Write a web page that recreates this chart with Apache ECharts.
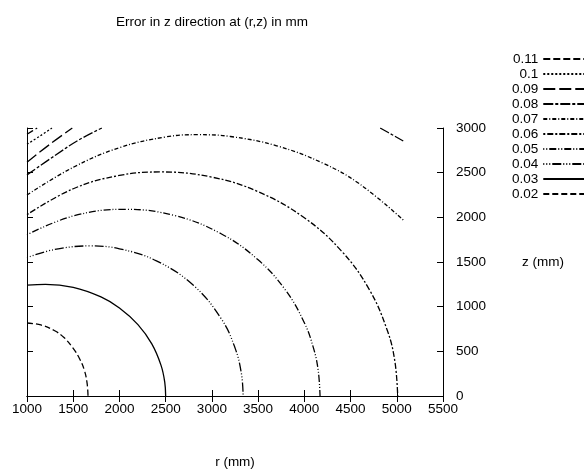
<!DOCTYPE html>
<html>
<head>
<meta charset="utf-8">
<script src="https://cdn.jsdelivr.net/npm/echarts@6/dist/echarts.min.js"></script>
<style>
  html, body { margin: 0; padding: 0; background: #fff; }
  #chart { width: 584px; height: 475px; }
</style>
</head>
<body>
<div id="chart"></div>
<script>
// contour levels, top to bottom as in the key
const levels = ['0.11', '0.1', '0.09', '0.08', '0.07', '0.06', '0.05', '0.04', '0.03', '0.02'];

// axis ticks
const rTicks = [1000, 1500, 2000, 2500, 3000, 3500, 4000, 4500, 5000, 5500];
const zTicks = [0, 500, 1000, 1500, 2000, 2500, 3000];

// contour points, [r, z] in mm
const c011 = [[1000, 2930], [1110, 3000]];
const c010 = [[1000, 2818], [1140, 2910], [1270, 3000]];
const c009 = [[1000, 2617], [1250, 2820], [1490, 3000]];
const c008a = [[1000, 2475], [1300, 2690], [1550, 2860], [1810, 3000]];
const c008b = [[4820, 3000], [4950, 2925], [5070, 2855]];
const c007 = [[1000, 2250], [1500, 2560], [2000, 2780], [2500, 2900], [2850, 2925], [3200, 2905],
  [3700, 2801], [4200, 2607], [4600, 2372], [5070, 1970]];
const c006 = [[1000, 2030], [1500, 2320], [2000, 2469], [2450, 2508], [3000, 2450], [3500, 2287],
  [4000, 1995], [4400, 1625], [4700, 1197], [4900, 727], [4980, 383], [5010, 0]];
const c005 = [[1000, 1805], [1500, 2015], [2050, 2090], [2600, 2019], [3100, 1816], [3500, 1524],
  [3800, 1180], [4000, 820], [4100, 533], [4150, 287], [4170, 0]];
const c004 = [[1000, 1550], [1300, 1640], [1680, 1680], [2000, 1648], [2400, 1513], [2800, 1239],
  [3100, 867], [3250, 539], [3320, 247], [3338, 0]];
const c003 = [[1000, 1240], [1200, 1250], [1500, 1216], [1800, 1109], [2000, 985], [2200, 799],
  [2350, 583], [2450, 343], [2490, 155], [2500, 0]];
const c002 = [[1000, 817], [1150, 795], [1300, 730], [1400, 655], [1500, 533], [1570, 415],
  [1620, 290], [1650, 145], [1660, 0]];

const dashes = {
  '0.11': [7, 3],
  '0.1': [2, 2],
  '0.09': [12, 4],
  '0.08': [10, 2, 3, 2],
  '0.07': [4, 2, 1, 2],
  '0.06': [2, 2, 6, 2],
  '0.05': [1, 2, 1, 2, 7, 2],
  '0.04': [1, 2, 1, 2, 1, 2, 9, 2],
  '0.03': 'solid',
  '0.02': [6, 3]
};

const font = 'Liberation Sans, Arial, sans-serif';
const fs = 13.5;

const contour = (name, data) => ({
  name: name,
  type: 'line',
  data: data,
  symbol: 'none',
  smooth: 0.4,
  clip: true,
  lineStyle: { color: '#000', width: 1.3, type: dashes[name] },
  itemStyle: { color: '#000' }
});

const chart = echarts.init(document.getElementById('chart'));

chart.setOption({
  animation: false,
  backgroundColor: '#fff',
  textStyle: { fontFamily: font, color: '#000' },
  title: {
    text: 'Error in z direction at (r,z) in mm',
    left: 111,
    top: 10,
    textStyle: { fontFamily: font, fontSize: fs, fontWeight: 'normal', color: '#000' }
  },
  legend: {
    orient: 'vertical',
    left: 507,
    top: 47,
    itemWidth: 48,
    itemHeight: 14,
    itemGap: 1,
    align: 'right',
    data: levels,
    itemStyle: { opacity: 0, borderWidth: 0 },
    formatter: '{t|{name}}',
    textStyle: {
      color: '#000',
      fontFamily: font,
      fontSize: fs,
      rich: { t: { width: 30, align: 'right', fontSize: fs, fontFamily: font } }
    }
  },
  grid: { left: 27, right: 141, top: 128, bottom: 79 },
  xAxis: [{
    type: 'value',
    min: 1000,
    max: 5500,
    interval: 500,
    name: 'r (mm)',
    nameLocation: 'middle',
    nameGap: 59,
    nameTextStyle: { fontFamily: font, fontSize: fs, color: '#000' },
    axisLine: { show: true, lineStyle: { color: '#000', width: 1 } },
    axisTick: { show: true, inside: true, length: 6, lineStyle: { color: '#000' } },
    axisLabel: { fontFamily: font, fontSize: fs, color: '#000', margin: 6,
      formatter: v => rTicks.includes(v) ? String(v) : '' },
    splitLine: { show: false }
  }, {
    type: 'value',
    position: 'top',
    min: 1000,
    max: 5500,
    interval: 500,
    axisLine: { show: true, lineStyle: { color: '#000', width: 1 } },
    axisTick: { show: true, inside: true, length: 6, lineStyle: { color: '#000' } },
    axisLabel: { show: false },
    splitLine: { show: false }
  }],
  yAxis: [{
    type: 'value',
    position: 'right',
    min: 0,
    max: 3000,
    interval: 500,
    name: 'z (mm)',
    nameLocation: 'middle',
    nameRotate: 0,
    nameGap: 79,
    nameTextStyle: { fontFamily: font, fontSize: fs, color: '#000' },
    axisLine: { show: true, lineStyle: { color: '#000', width: 1 } },
    axisTick: { show: true, inside: true, length: 6, lineStyle: { color: '#000' } },
    axisLabel: { fontFamily: font, fontSize: fs, color: '#000', margin: 13,
      formatter: v => zTicks.includes(v) ? String(v) : '' },
    splitLine: { show: false }
  }, {
    type: 'value',
    position: 'left',
    min: 0,
    max: 3000,
    interval: 500,
    axisLine: { show: true, lineStyle: { color: '#000', width: 1 } },
    axisTick: { show: true, inside: true, length: 6, lineStyle: { color: '#000' } },
    axisLabel: { show: false },
    splitLine: { show: false }
  }],
  series: [
    contour('0.11', c011),
    contour('0.1', c010),
    contour('0.09', c009),
    contour('0.08', c008a),
    contour('0.08', c008b),
    contour('0.07', c007),
    contour('0.06', c006),
    contour('0.05', c005),
    contour('0.04', c004),
    contour('0.03', c003),
    contour('0.02', c002)
  ]
});
</script>
</body>
</html>
